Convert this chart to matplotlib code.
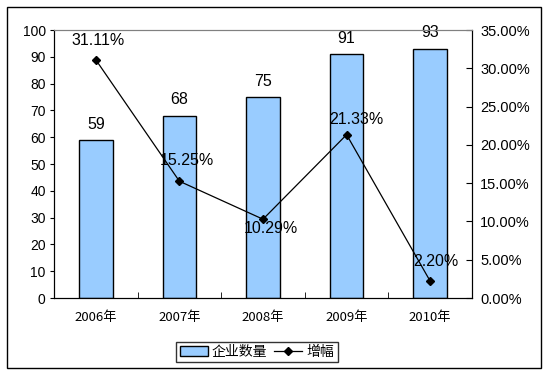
import matplotlib
matplotlib.use("Agg")
import matplotlib.pyplot as plt
from matplotlib.patches import Rectangle
from matplotlib.ticker import FuncFormatter, MultipleLocator

plt.rcParams['font.family'] = ['Liberation Sans', 'Noto Sans CJK SC', 'DejaVu Sans']

categories = ['2006年', '2007年', '2008年', '2009年', '2010年']
counts = [59, 68, 75, 91, 93]
growth = [31.11, 15.25, 10.29, 21.33, 2.20]
growth_labels = ['31.11%', '15.25%', '10.29%', '21.33%', '2.20%']

fig = plt.figure(figsize=(5.45, 3.73), dpi=100)
ax = fig.add_axes([54/545, 1-298/373, (472-54)/545, (298-30)/373])
x = list(range(len(categories)))

bars = ax.bar(x, counts, width=0.4, color='#99CCFF', edgecolor='black', linewidth=1.0, label='企业数量', zorder=2)
ax.set_xlim(-0.5, len(categories)-0.5)
ax.set_ylim(0, 100)
ax.yaxis.set_major_locator(MultipleLocator(10))
for xi, c in zip(x, counts):
    ax.annotate(str(c), (xi, c), xytext=(0, 6), textcoords='offset points',
                ha='center', va='bottom', fontsize=11.5, color='#000000')

ax.set_xticks(x)
ax.set_xticklabels(categories, fontsize=9.5, family=['Noto Sans CJK SC'])
ax.tick_params(axis='x', length=0, pad=9)
ax.set_xticks([i + 0.5 for i in x[:-1]], minor=True)
ax.tick_params(axis='x', which='minor', length=4, direction='in')
ax.tick_params(axis='y', length=3, direction='out', labelsize=10, pad=3)

ax2 = ax.twinx()
ax2.set_ylim(0, 35)
ax2.yaxis.set_major_locator(MultipleLocator(5))
ax2.yaxis.set_major_formatter(FuncFormatter(lambda v, p: f'{v:.2f}%'))
ax2.tick_params(axis='y', length=4, direction='in', labelsize=10.5, pad=6)
line, = ax2.plot(x, growth, color='black', linewidth=0.9, marker='D', markersize=4.5, label='增幅', zorder=3)

offsets = [(2, -19), (7, -21), (8, 9), (10, -15), (6, -20)]
for xi, g, lab, (dx, dy) in zip(x, growth, growth_labels, offsets):
    ax2.annotate(lab, (xi, g), xytext=(dx*0.72, -dy*0.72), textcoords='offset points',
                 ha='center', va='center', fontsize=11.5, color='#000000')

for a in (ax, ax2):
    a.spines['top'].set_color('#808080')
    a.spines['left'].set_color('black')
    a.spines['right'].set_color('black')
    a.spines['bottom'].set_color('black')
    a.set_facecolor('none')

leg = fig.legend([bars, line], ['企业数量', '增幅'], loc='center', bbox_to_anchor=(257/545, 1-352/373),
                 ncol=2, frameon=True, fancybox=False, edgecolor='black',
                 prop={'family': ['Noto Sans CJK SC'], 'size': 10},
                 handlelength=2.0, handletextpad=0.3, columnspacing=0.5, borderpad=0.25)
leg.get_frame().set_linewidth(1.0)

fig.patches.append(Rectangle((7/545, 1-368/373), (541-7)/545, (368-7)/373, transform=fig.transFigure,
                             fill=False, edgecolor='black', linewidth=1.0))

fig.savefig('out.png', dpi=100)
